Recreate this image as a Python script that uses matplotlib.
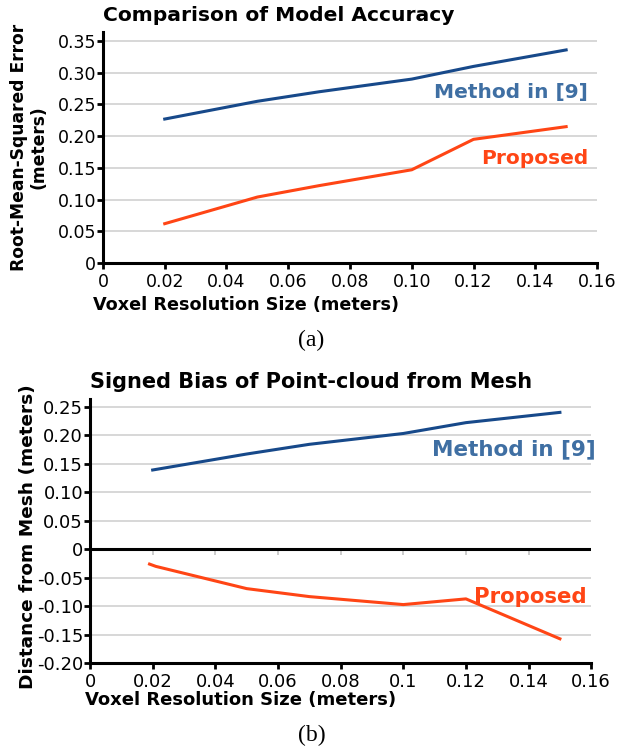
import matplotlib
matplotlib.use("Agg")
import matplotlib.pyplot as plt

# ---- data ----
x_res = [0.02, 0.05, 0.07, 0.10, 0.12, 0.15]
rmse_method9 = [0.227, 0.255, 0.270, 0.290, 0.310, 0.336]
rmse_proposed = [0.062, 0.104, 0.122, 0.147, 0.195, 0.215]
bias_method9 = [0.139, 0.167, 0.184, 0.203, 0.222, 0.240]
bias_proposed_x = [0.019, 0.021, 0.05, 0.07, 0.10, 0.12, 0.15]
bias_proposed = [-0.026, -0.030, -0.069, -0.083, -0.097, -0.087, -0.157]

xticks = [0, 0.02, 0.04, 0.06, 0.08, 0.10, 0.12, 0.14, 0.16]
xlabels_a = ["0", "0.02", "0.04", "0.06", "0.08", "0.10", "0.12", "0.14", "0.16"]
xlabels_b = ["0", "0.02", "0.04", "0.06", "0.08", "0.1", "0.12", "0.14", "0.16"]
yticks_a = [0, 0.05, 0.10, 0.15, 0.20, 0.25, 0.30, 0.35]
ylabels_a = ["0", "0.05", "0.10", "0.15", "0.20", "0.25", "0.30", "0.35"]
yticks_b = [-0.20, -0.15, -0.10, -0.05, 0, 0.05, 0.10, 0.15, 0.20, 0.25]
ylabels_b = ["-0.20", "-0.15", "-0.10", "-0.05", "0", "0.05", "0.10", "0.15", "0.20", "0.25"]

BLUE = "#17498a"
BLUE_TXT = "#3f6fa3"
ORANGE = "#ff4515"

plt.rcParams['font.family'] = ['DejaVu Sans']

fig = plt.figure(figsize=(6.23, 7.48), dpi=100)

def style(ax, tsize):
    for s in ["top", "right"]:
        ax.spines[s].set_visible(False)
    for s in ["left", "bottom"]:
        ax.spines[s].set_linewidth(2.2)
        ax.spines[s].set_color("black")
    ax.tick_params(axis="both", direction="out", length=4, width=2, labelsize=tsize, pad=1)
    ax.tick_params(axis="x", pad=3)
    ax.set_axisbelow(True)

# ---- (a) ----
ax1 = fig.add_axes([0.1653, 0.6484, 0.7930, 0.3086])
style(ax1, 12.5)
ax1.plot(x_res, rmse_method9, color=BLUE, lw=2.2)
ax1.plot(x_res, rmse_proposed, color=ORANGE, lw=2.2)
ax1.set_xlim(0, 0.16)
ax1.set_ylim(0, 0.364)
ax1.set_xticks(xticks, xlabels_a)
ax1.set_yticks(yticks_a, ylabels_a)
for yv in yticks_a[1:]:
    ax1.axhline(yv, color="#d4d4d4", lw=1.3, zorder=0)
ax1.set_title("Comparison of Model Accuracy", fontsize=14.6, fontweight="bold",
              loc="left", x=0.0, pad=8)
ax1.set_xlabel("Voxel Resolution Size (meters)", fontsize=12.7, fontweight="bold",
               loc="left")
ax1.xaxis.set_label_coords(-0.02, -0.145)
ax1.set_ylabel("Root-Mean-Squared Error\n(meters)", fontsize=12.3, fontweight="bold",
               linespacing=1.1)
ax1.yaxis.set_label_coords(-0.112, 0.50)
ax1.text(0.1571, 0.269, "Method in [9]", color=BLUE_TXT, fontsize=14.5,
         fontweight="bold", ha="right", va="center")
ax1.text(0.1571, 0.165, "Proposed", color=ORANGE, fontsize=14.5,
         fontweight="bold", ha="right", va="center")
fig.text(0.5, 1 - 340 / 748, "(a)", ha="center", va="center",
         fontsize=17, family="Liberation Serif")

# ---- (b) ----
ax2 = fig.add_axes([0.1445, 0.1132, 0.8045, 0.3534])
style(ax2, 13)
ax2.plot(x_res, bias_method9, color=BLUE, lw=2.2)
ax2.plot(bias_proposed_x, bias_proposed, color=ORANGE, lw=2.2)
ax2.set_xlim(0, 0.16)
ax2.set_ylim(-0.20, 0.2635)
ax2.set_xticks(xticks, xlabels_b)
ax2.set_yticks(yticks_b, ylabels_b)
for yv in yticks_b[1:]:
    if yv != 0:
        ax2.axhline(yv, color="#d4d4d4", lw=1.3, zorder=0)
ax2.axhline(0, color="black", lw=2.2, zorder=1)
sec = ax2.secondary_xaxis((0 + 0.20) / (0.2635 + 0.20))
sec.set_xticks(xticks[1:-1])
sec.tick_params(axis="x", direction="out", length=4, width=1.3, color="#c8c8c8",
                labelbottom=False, labeltop=False, bottom=True, top=False)
for s in sec.spines.values():
    s.set_visible(False)
ax2.set_title("Signed Bias of Point-cloud from Mesh", fontsize=15, fontweight="bold",
              loc="left", x=0.0, pad=8)
ax2.set_xlabel("Voxel Resolution Size (meters)", fontsize=13, fontweight="bold",
               loc="left")
ax2.xaxis.set_label_coords(-0.01, -0.105)
ax2.set_ylabel("Distance from Mesh (meters)", fontsize=13.3, fontweight="bold")
ax2.yaxis.set_label_coords(-0.105, 0.478)
ax2.text(0.1615, 0.175, "Method in [9]", color=BLUE_TXT, fontsize=15.5,
         fontweight="bold", ha="right", va="center")
ax2.text(0.1585, -0.084, "Proposed", color=ORANGE, fontsize=15.3,
         fontweight="bold", ha="right", va="center")
fig.text(0.5, 1 - 735 / 748, "(b)", ha="center", va="center",
         fontsize=17, family="Liberation Serif")

fig.savefig("out.png", dpi=100)
